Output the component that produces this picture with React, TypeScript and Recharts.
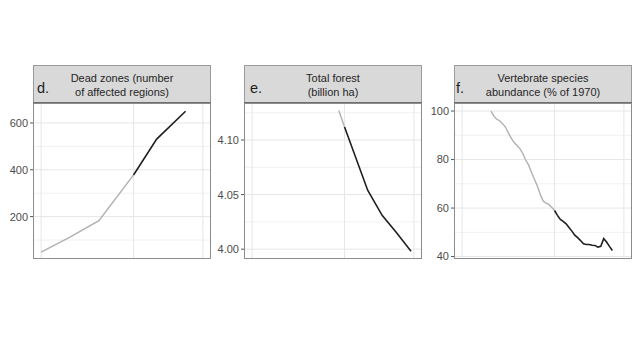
import React from 'react';
import { LineChart, Line, XAxis, YAxis, ReferenceLine } from 'recharts';

// Shared x axis (years)
const xBreaks = [1960, 1992, 2016];
const xDomain: [number, number] = [1957.2, 2018.8];

// d. Dead zones
const deadYears = [1960, 1970, 1980, 1992, 2000, 2010];
const deadBefore = [48, 112, 183, 378, null, null];
const deadAfter = [null, null, null, 378, 531, 650];
const deadTicks = [200, 400, 600];
const deadTickLabels = ['200', '400', '600'];
const deadMinor = [100, 300, 500];
const deadDomain: [number, number] = [19, 681];

// e. Total forest
const forestYears = [1990, 1992, 2000, 2005, 2010, 2015];
const forestBefore = [4.127, 4.112, null, null, null, null];
const forestAfter = [null, 4.112, 4.054, 4.031, 4.015, 3.998];
const forestTicks = [4.0, 4.05, 4.1];
const forestTickLabels = ['4.00', '4.05', '4.10'];
const forestMinor = [4.025, 4.075, 4.125];
const forestDomain: [number, number] = [3.991, 4.133];

// f. Vertebrate species abundance
const lpiYears = [
  1970, 1971, 1972, 1973, 1974, 1975, 1976, 1977, 1978, 1979,
  1980, 1981, 1982, 1983, 1984, 1985, 1986, 1987, 1988, 1989,
  1990, 1991, 1992, 1993, 1994, 1995, 1996, 1997, 1998, 1999,
  2000, 2001, 2002, 2003, 2004, 2005, 2006, 2007, 2008, 2009,
  2010, 2011, 2012,
];
const lpiBefore = [
  100, 97.9, 96.6, 96, 94.8, 93.4, 91, 88.8, 87, 85.8,
  84.5, 82.5, 79.8, 77.8, 74.8, 72, 69.2, 65.8, 63, 62,
  61.5, 60.3, 59, null, null, null, null, null, null, null,
  null, null, null, null, null, null, null, null, null, null,
  null, null, null,
];
const lpiAfter = [
  null, null, null, null, null, null, null, null, null, null,
  null, null, null, null, null, null, null, null, null, null,
  null, null, 59, 57, 55.3, 54.5, 53.5, 52, 50.5, 48.8,
  47.8, 46.6, 45.3, 45, 45, 44.7, 44.6, 43.9, 44.2, 47.4,
  46, 44.2, 42.5,
];
const lpiTicks = [40, 60, 80, 100];
const lpiTickLabels = ['40', '60', '80', '100'];
const lpiMinor = [50, 70, 90];
const lpiDomain: [number, number] = [39, 102.9];

const FONT = '"Liberation Sans", Arial, Helvetica, sans-serif';
const PLOT_W = 178;
const PLOT_H = 155;
const AXIS_W = 33;
const PLOT_TOP = 104;

type PanelProps = {
  left: number;
  years: number[];
  before: (number | null)[];
  after: (number | null)[];
  ticks: number[];
  tickLabels: string[];
  minor: number[];
  domain: [number, number];
};

function Panel({ left, years, before, after, ticks, tickLabels, minor, domain }: PanelProps) {
  const data = years.map((y, i) => ({ year: y, before: before[i], after: after[i] }));
  return (
    <div style={{ position: 'absolute', left: left - AXIS_W, top: PLOT_TOP }}>
      <LineChart
        width={AXIS_W + PLOT_W}
        height={PLOT_H}
        data={data}
        margin={{ top: 0, right: 0, bottom: 0, left: 0 }}
      >
        <XAxis type="number" dataKey="year" domain={xDomain} hide allowDataOverflow />
        <YAxis
          type="number"
          domain={domain}
          ticks={ticks}
          interval={0}
          allowDataOverflow
          width={AXIS_W}
          axisLine={false}
          tickSize={3}
          tickMargin={2}
          tickLine={{ stroke: '#555555' }}
          tick={{ fill: '#4d4d4d', stroke: 'none', fontSize: 11, fontFamily: FONT }}
          tickFormatter={(v: number) => tickLabels[ticks.indexOf(v)] ?? String(v)}
        />
        {minor.map((v) => (
          <ReferenceLine key={'mn' + v} y={v} stroke="#f1f1f1" strokeWidth={1} />
        ))}
        {ticks.map((v) => (
          <ReferenceLine key={'mj' + v} y={v} stroke="#e6e6e6" strokeWidth={1} />
        ))}
        {xBreaks.map((v) => (
          <ReferenceLine key={'x' + v} x={v} stroke="#e6e6e6" strokeWidth={1} />
        ))}
        <Line
          dataKey="before"
          stroke="#b0b0b0"
          strokeWidth={1.4}
          dot={false}
          activeDot={false}
          isAnimationActive={false}
        />
        <Line
          dataKey="after"
          stroke="#1f1f1f"
          strokeWidth={1.6}
          dot={false}
          activeDot={false}
          isAnimationActive={false}
        />
      </LineChart>
    </div>
  );
}

type StripProps = { left: number; letter: string; letterX: number; line1: string; line2: string };

function Strip({ left, letter, letterX, line1, line2 }: StripProps) {
  return (
    <g>
      <rect x={left + 0.5} y={65.5} width={PLOT_W - 1} height={38} fill="#d9d9d9" stroke="#9a9a9a" />
      <line x1={left} x2={left + PLOT_W} y1={103} y2={103} stroke="#6e6e6e" strokeWidth={2} />
      <rect x={left + 0.5} y={103.5} width={PLOT_W - 1} height={155} fill="none" stroke="#8c8c8c" />
      <text x={letterX} y={92.5} fontSize={14.5} fill="#1e1e1e" fontFamily={FONT}>
        {letter}
      </text>
      <text x={left + PLOT_W / 2} y={81.5} fontSize={11} fill="#262626" fontFamily={FONT} textAnchor="middle">
        {line1}
      </text>
      <text x={left + PLOT_W / 2} y={95.5} fontSize={11} fill="#262626" fontFamily={FONT} textAnchor="middle">
        {line2}
      </text>
    </g>
  );
}

export default function App() {
  return (
    <div
      style={{
        position: 'absolute',
        left: 0,
        top: 0,
        width: 635,
        height: 357,
        background: '#ffffff',
        overflow: 'hidden',
        fontFamily: FONT,
      }}
    >
      <style>{'.recharts-surface { overflow: visible; }'}</style>
      <Panel
        left={33}
        years={deadYears}
        before={deadBefore}
        after={deadAfter}
        ticks={deadTicks}
        tickLabels={deadTickLabels}
        minor={deadMinor}
        domain={deadDomain}
      />
      <Panel
        left={244}
        years={forestYears}
        before={forestBefore}
        after={forestAfter}
        ticks={forestTicks}
        tickLabels={forestTickLabels}
        minor={forestMinor}
        domain={forestDomain}
      />
      <Panel
        left={454}
        years={lpiYears}
        before={lpiBefore}
        after={lpiAfter}
        ticks={lpiTicks}
        tickLabels={lpiTickLabels}
        minor={lpiMinor}
        domain={lpiDomain}
      />
      <svg
        width={635}
        height={357}
        style={{ position: 'absolute', left: 0, top: 0, pointerEvents: 'none' }}
      >
        <Strip left={33} letter="d." letterX={37} line1="Dead zones (number" line2="of affected regions)" />
        <Strip left={244} letter="e." letterX={250} line1="Total forest" line2="(billion ha)" />
        <Strip left={454} letter="f." letterX={456} line1="Vertebrate species" line2="abundance (% of 1970)" />
      </svg>
    </div>
  );
}
